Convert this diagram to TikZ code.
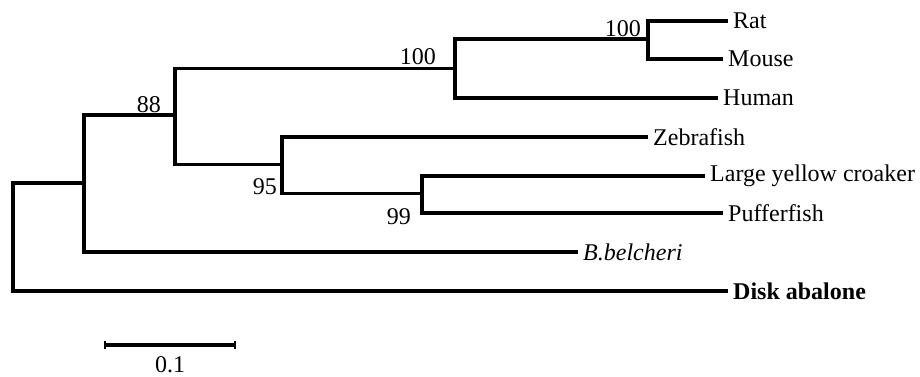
\documentclass[tikz,border=0pt]{standalone}
\usepackage{fontspec}
\setmainfont{Liberation Serif}
\begin{document}
\begin{tikzpicture}[x=1pt,y=-1pt,
  branch/.style={line width=3.8pt,line join=miter,line cap=butt},
  leaf/.style={anchor=west,inner xsep=5pt,inner ysep=0pt,font=\fontsize{24}{27}\selectfont},
  boot/.style={inner sep=0pt,font=\fontsize{24}{27}\selectfont},
  tickmark/.style={line width=1.2pt}]
\useasboundingbox[fill=white] (0,0) rectangle (920,377);
% internal nodes (at vertical midpoints)
\coordinate (R)   at (13,236.5);
\coordinate (A)   at (84,183);
\coordinate (N88) at (175,115);
\coordinate (N100) at (455,68.5);
\coordinate (NRM) at (648,39);
\coordinate (N95) at (282,164.5);
\coordinate (N99) at (422,193.5);
% leaves
\node[leaf] (rat)    at (728,21)  {Rat};
\node[leaf] (mouse)  at (723,59)  {Mouse};
\node[leaf] (human)  at (718,98)  {Human};
\node[leaf] (zebra)  at (648,137) {Zebrafish};
\node[leaf] (lyc)    at (705,176) {Large yellow croaker};
\node[leaf] (puffer) at (723,213) {Pufferfish};
\node[leaf,font=\fontsize{24}{27}\selectfont\itshape] (bbel) at (578,252) {B.belcheri};
\node[leaf,font=\fontsize{24}{27}\selectfont\bfseries] (disk) at (728,291) {Disk abalone};
% branches
\draw[branch] (R) |- (A);
\draw[branch] (R) |- (disk.west);
\draw[branch] (A) |- (N88);
\draw[branch] (A) |- (bbel.west);
\draw[branch] (N88) |- (N100);
\draw[branch] (N88) |- (N95);
\draw[branch] (N100) |- (NRM);
\draw[branch] (N100) |- (human.west);
\draw[branch] (NRM) |- (rat.west);
\draw[branch] (NRM) |- (mouse.west);
\draw[branch] (N95) |- (zebra.west);
\draw[branch] (N95) |- (N99);
\draw[branch] (N99) |- (lyc.west);
\draw[branch] (N99) |- (puffer.west);
% bootstrap values
\node[boot,anchor=east] (b100a) at (641,29) {100};
\node[boot,anchor=south east] (b100b) at (436,65) {100};
\node[boot,anchor=south east] (b88) at (161,113) {88};
\node[boot,anchor=east] (b95) at (277,187) {95};
\node[boot,anchor=east] (b99) at (411,217) {99};
% scale bar
\coordinate (s1) at (105,345);
\coordinate (s2) at (235,345);
\draw[branch] (s1) -- (s2);
\draw[tickmark] ([yshift=-4]s1) -- ([yshift=4]s1);
\draw[tickmark] ([yshift=-4]s2) -- ([yshift=4]s2);
\node[boot] (scale) at (170,365) {0.1};
\end{tikzpicture}
\end{document}
